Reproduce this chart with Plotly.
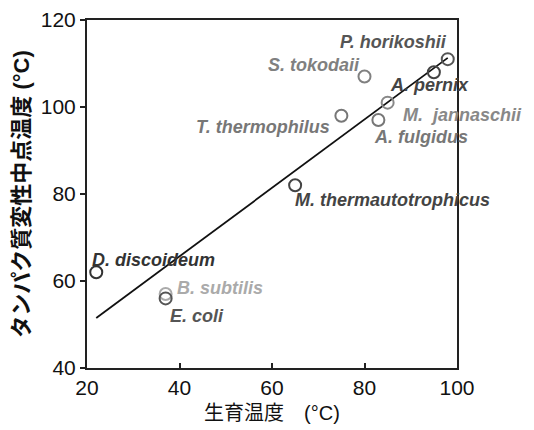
import plotly.graph_objects as go

species = ["D. discoideum", "B. subtilis", "E. coli", "M. thermautotrophicus",
           "T. thermophilus", "S. tokodaii", "A. fulgidus", "M.  jannaschii",
           "A. pernix", "P. horikoshii"]
growth_temp = [22, 37, 37, 65, 75, 80, 83, 85, 95, 98]
midpoint_temp = [62, 57, 56, 82, 98, 107, 97, 101, 108, 111]
colors = ["#333333", "#aaaaaa", "#555555", "#444444", "#777777",
          "#808080", "#777777", "#888888", "#444444", "#555555"]

fit_x = [22, 98]
fit_y = [51.5, 111.3]

# label placement (pixels, style only)
anchors = ["left", "left", "left", "left", "right", "right", "left", "left", "left", "right"]
xshifts = [-6, 9, 2, -2, -9, -3, -6, 13, -46, 1]
yshifts = [12, 6, -18, -15, -11, 12, -17, -12, -13, 17]

FONT = "Liberation Sans, Arial, Noto Sans CJK JP"

fig = go.Figure()
fig.add_trace(go.Scatter(x=fit_x, y=fit_y, mode="lines",
                         line=dict(color="#111111", width=1.8),
                         hoverinfo="skip", showlegend=False))
fig.add_trace(go.Scatter(x=growth_temp, y=midpoint_temp, mode="markers",
                         marker=dict(symbol="circle-open", size=12, color=colors,
                                     line=dict(width=2, color=colors)),
                         text=species, showlegend=False, cliponaxis=False))

for s, gx, gy, c, a, xs, ys in zip(species, growth_temp, midpoint_temp, colors,
                                   anchors, xshifts, yshifts):
    fig.add_annotation(x=gx, y=gy, text="<b><i>%s</i></b>" % s.replace("  ", "&nbsp; "),
                       showarrow=False, xanchor=a, yanchor="middle",
                       xshift=xs, yshift=ys,
                       font=dict(family=FONT, size=18, color=c))

fig.update_layout(
    width=534, height=430,
    margin=dict(l=87, r=77, t=20, b=62, autoexpand=False),
    plot_bgcolor="white", paper_bgcolor="white",
    font=dict(family=FONT, size=21, color="#111111"),
    xaxis=dict(range=[20, 100], tickvals=[20, 40, 60, 80, 100],
               showline=True, mirror=True, linecolor="#222222", linewidth=2,
               ticks="inside", ticklen=5, tickwidth=1.5, tickcolor="#222222",
               showgrid=False, zeroline=False, automargin=False,
               tickfont=dict(family=FONT, size=21, color="#111111"),
               title=dict(text="生育温度　(°C)", standoff=8,
                          font=dict(family=FONT, size=20, color="#111111"))),
    yaxis=dict(range=[40, 120], tickvals=[40, 60, 80, 100, 120],
               showline=True, mirror=True, linecolor="#222222", linewidth=2,
               ticks="outside", ticklen=5, tickwidth=1.5, tickcolor="#222222",
               showgrid=False, zeroline=False, automargin=False,
               tickfont=dict(family=FONT, size=21, color="#111111"),
               title=dict(text="<b>タンパク質変性中点温度 (°C)</b>", standoff=5,
                          font=dict(family=FONT, size=22, color="#111111"))),
)

fig.write_html("out.html")
